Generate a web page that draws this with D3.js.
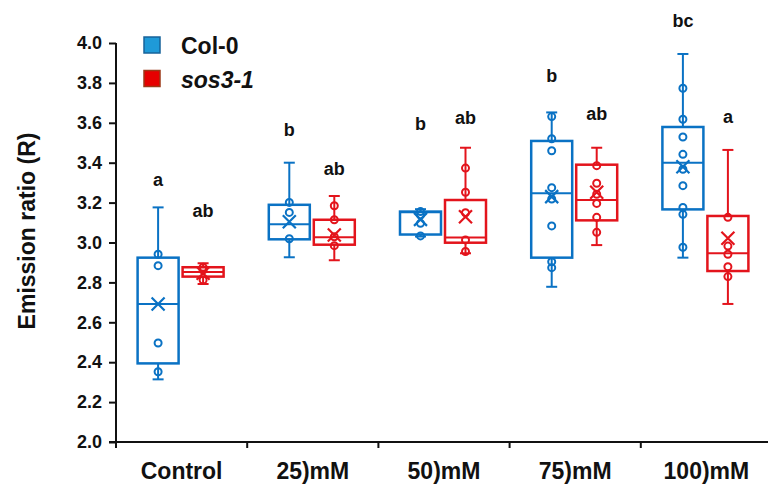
<!DOCTYPE html>
<html>
<head>
<meta charset="utf-8">
<script src="https://cdn.jsdelivr.net/npm/d3@7"></script>
<style>
  body { margin: 0; background: #fff; }
  svg text { font-family: "Liberation Sans", Arial, sans-serif; font-weight: bold; fill: #111; }
</style>
</head>
<body>
<div id="chart"></div>
<script>
const categories = ["Control", "25)mM", "50)mM", "75)mM", "100)mM"];
const series = ["Col-0", "sos3-1"];
const yTicks = [2.0, 2.2, 2.4, 2.6, 2.8, 3.0, 3.2, 3.4, 3.6, 3.8, 4.0];

// Col-0 box stats per category
const colMin = [2.314, 2.926, 3.03, 2.778, 2.924];
const colQ1 = [2.394, 3.016, 3.04, 2.924, 3.166];
const colMedian = [2.692, 3.091, 3.152, 3.247, 3.4];
const colQ3 = [2.924, 3.189, 3.155, 3.509, 3.579];
const colMax = [3.176, 3.4, 3.167, 3.652, 3.945];
const colMean = [2.692, 3.104, 3.116, 3.23, 3.38];
const colPoints = [
  [2.941, 2.884, 2.496, 2.352],
  [3.201, 3.151, 3.019],
  [3.155, 3.138, 3.096, 3.033],
  [3.631, 3.52, 3.46, 3.275, 3.218, 3.083, 2.904, 2.874],
  [3.773, 3.618, 3.529, 3.442, 3.367, 3.285, 3.176, 3.141, 2.976]
];
const colLetters = ["a", "b", "b", "b", "bc"];
const colLetterAt = [3.281, 3.534, 3.564, 3.805, 4.08];

// sos3-1 box stats per category
const sosMin = [2.792, 2.911, 2.946, 2.987, 2.692];
const sosQ1 = [2.829, 2.989, 2.999, 3.111, 2.857];
const sosMedian = [2.852, 3.026, 3.025, 3.213, 2.946];
const sosQ3 = [2.876, 3.114, 3.213, 3.39, 3.133];
const sosMax = [2.896, 3.233, 3.475, 3.475, 3.464];
const sosMean = [2.846, 3.038, 3.129, 3.252, 3.021];
const sosPoints = [
  [2.876, 2.862, 2.812],
  [3.184, 3.114, 3.029, 2.984],
  [3.373, 3.252, 3.149, 3.013, 2.955],
  [3.385, 3.297, 3.242, 3.196, 3.126, 3.051],
  [3.126, 2.982, 2.941, 2.879, 2.829]
];
const sosLetters = ["ab", "ab", "ab", "ab", "a"];
const sosLetterAt = [3.128, 3.338, 3.592, 3.613, 3.599];

const strokeColors = { "Col-0": "#0a72c4", "sos3-1": "#e3141c" };
const legendFill = { "Col-0": "#1f9ad8", "sos3-1": "#e60000" };
const legendEdge = { "Col-0": "#17639a", "sos3-1": "#9c3a18" };

function buildRows(name, mins, q1s, meds, q3s, maxs, means, points, letters, letterAt) {
  return categories.map((cat, i) => ({
    cat, series: name,
    min: mins[i], q1: q1s[i], median: meds[i], q3: q3s[i], max: maxs[i],
    mean: means[i], points: points[i], letter: letters[i], letterAt: letterAt[i]
  }));
}

const rows = [
  ...buildRows("Col-0", colMin, colQ1, colMedian, colQ3, colMax, colMean, colPoints, colLetters, colLetterAt),
  ...buildRows("sos3-1", sosMin, sosQ1, sosMedian, sosQ3, sosMax, sosMean, sosPoints, sosLetters, sosLetterAt)
];

const width = 768;
const height = 486;
const x0 = 116;
const step = 131.2;

const svg = d3.select("#chart").append("svg")
  .attr("width", width)
  .attr("height", height);

const x = d3.scaleBand().domain(categories).range([x0, x0 + step * categories.length]);
const inner = d3.scalePoint().domain(series).range([-23.5, 21.5]);
const y = d3.scaleLinear().domain([2, 4]).range([442, 43]);

const boxW = 41;
const capW = 11;

// axes
const yAxis = svg.append("g")
  .attr("transform", `translate(${x0},0)`)
  .call(d3.axisLeft(y).tickValues(yTicks).tickFormat(d3.format(".1f")).tickSize(7).tickPadding(7));
yAxis.select(".domain").attr("stroke", "#111").attr("stroke-width", 2).attr("d", `M0,${y(4)}V${y(2)}`);
yAxis.selectAll(".tick line").attr("stroke", "#111").attr("stroke-width", 2);
yAxis.selectAll(".tick text").style("font-size", "18px").attr("fill", "#111");

const xAxis = svg.append("g")
  .attr("transform", `translate(0,${y(2)})`)
  .call(d3.axisBottom(x).tickSize(0).tickPadding(21));
xAxis.select(".domain").attr("stroke", "#111").attr("stroke-width", 2).attr("d", `M${x0 - 7},0H${width + 10}`);
xAxis.selectAll(".tick text").style("font-size", "23px").attr("fill", "#111");
xAxis.selectAll(".bound")
  .data(categories)
  .join("line")
  .attr("x1", (d) => x(d))
  .attr("x2", (d) => x(d))
  .attr("y1", 0)
  .attr("y2", 6)
  .attr("stroke", "#111")
  .attr("stroke-width", 2);

svg.append("text")
  .attr("transform", `translate(35,231) rotate(-90)`)
  .attr("text-anchor", "middle")
  .style("font-size", "23px")
  .text("Emission ratio (R)");

// boxes
const groups = svg.append("g").selectAll("g")
  .data(rows)
  .join("g")
  .attr("transform", (d) => `translate(${x(d.cat) + x.bandwidth() / 2 + inner(d.series)},0)`)
  .attr("stroke", (d) => strokeColors[d.series])
  .attr("fill", "none");

groups.append("line")
  .attr("y1", (d) => y(d.max)).attr("y2", (d) => y(d.q3))
  .attr("stroke-width", 2);
groups.append("line")
  .attr("y1", (d) => y(d.q1)).attr("y2", (d) => y(d.min))
  .attr("stroke-width", 2);
groups.append("line")
  .attr("x1", -capW / 2).attr("x2", capW / 2)
  .attr("y1", (d) => y(d.max)).attr("y2", (d) => y(d.max))
  .attr("stroke-width", 2);
groups.append("line")
  .attr("x1", -capW / 2).attr("x2", capW / 2)
  .attr("y1", (d) => y(d.min)).attr("y2", (d) => y(d.min))
  .attr("stroke-width", 2);
groups.append("rect")
  .attr("x", -boxW / 2)
  .attr("width", boxW)
  .attr("y", (d) => y(d.q3))
  .attr("height", (d) => y(d.q1) - y(d.q3))
  .attr("fill", "#fff")
  .attr("stroke-width", 2.5);
groups.append("line")
  .attr("x1", -boxW / 2).attr("x2", boxW / 2)
  .attr("y1", (d) => y(d.median)).attr("y2", (d) => y(d.median))
  .attr("stroke-width", 2);

groups.selectAll("circle")
  .data((d) => d.points)
  .join("circle")
  .attr("cx", 0)
  .attr("cy", (v) => y(v))
  .attr("r", 3.5)
  .attr("fill", "none")
  .attr("stroke-width", 2);

const xs = 6.5;
groups.append("path")
  .attr("d", (d) => {
    const cy = y(d.mean);
    return `M${-xs},${cy - xs}L${xs},${cy + xs}M${xs},${cy - xs}L${-xs},${cy + xs}`;
  })
  .attr("stroke-width", 2.2);

groups.append("text")
  .attr("y", (d) => y(d.letterAt))
  .attr("text-anchor", "middle")
  .attr("stroke", "none")
  .style("font-size", "18px")
  .text((d) => d.letter);

// legend
const legend = svg.append("g").selectAll("g")
  .data(series)
  .join("g")
  .attr("transform", (d, i) => `translate(144,${37 + i * 33.5})`);
legend.append("rect")
  .attr("width", 16)
  .attr("height", 16)
  .attr("fill", (d) => legendFill[d])
  .attr("stroke", (d) => legendEdge[d])
  .attr("stroke-width", 1.5);
legend.append("text")
  .attr("x", 37)
  .attr("y", 17)
  .style("font-size", "23px")
  .style("font-style", (d) => (d === "sos3-1" ? "italic" : "normal"))
  .text((d) => d);
</script>
</body>
</html>
